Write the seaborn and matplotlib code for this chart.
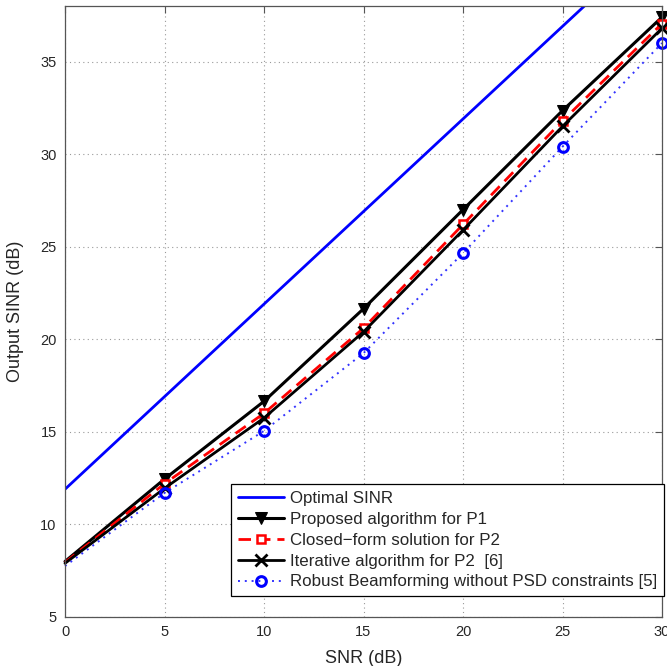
import numpy as np
import pandas as pd
import seaborn as sns
import matplotlib

matplotlib.use("agg")

import matplotlib.pyplot as plt

# values
snr = [0, 5, 10, 15, 20, 25, 30]
optimal = [11.9, 16.9, 21.9, 26.9, 31.9, 36.9, 41.9]
proposed = [8.0, 12.45, 16.65, 21.65, 27.0, 32.35, 37.4]
closed_form = [7.95, 12.2, 16.0, 20.6, 26.2, 31.8, 37.05]
iterative = [7.9, 11.95, 15.75, 20.4, 25.9, 31.5, 36.8]
robust = [7.75, 11.7, 15.05, 19.25, 24.65, 30.4, 36.0]

x_ticks = [0, 5, 10, 15, 20, 25, 30]
y_ticks = [5, 10, 15, 20, 25, 30, 35]

sns.set_style("white")
plt.rcParams["font.family"] = ["Liberation Sans", "DejaVu Sans"]

fig = plt.figure(figsize=(6.67, 6.66), dpi=100)
ax = fig.add_axes([65 / 667, 1 - 617 / 666, 597 / 667, 611 / 666])

marks = list(range(1, 7))  # no markers drawn at SNR = 0

# Optimal SINR
sns.lineplot(x=snr, y=optimal, ax=ax, color="#0000ff", linewidth=2,
             label="Optimal SINR")

# Proposed algorithm for P1
sns.lineplot(x=snr, y=proposed, ax=ax, color="black", linewidth=2.2,
             marker="v", markersize=8, markevery=marks,
             markerfacecolor="black", markeredgecolor="black",
             label="Proposed algorithm for P1", clip_on=False)

# Closed-form solution for P2
sns.lineplot(x=snr, y=closed_form, ax=ax, color="#ff0000", linewidth=2,
             linestyle=(0, (4.5, 2.5)), marker="s", markersize=6,
             markevery=marks, markerfacecolor="white",
             markeredgecolor="#ff0000", markeredgewidth=1.8,
             label="Closed\u2212form solution for P2", clip_on=False)

# Iterative algorithm for P2 [6]
sns.lineplot(x=snr, y=iterative, ax=ax, color="black", linewidth=2,
             marker="x", markersize=8, markeredgewidth=2,
             markevery=marks, markeredgecolor="black",
             label="Iterative algorithm for P2  [6]", clip_on=False)

# Robust beamforming without PSD constraints [5]
sns.lineplot(x=snr, y=robust, ax=ax, color="#3333ff", linewidth=1.4,
             linestyle=(0, (1, 2.5)), marker="o", markersize=7,
             markevery=marks, markerfacecolor="none",
             markeredgecolor="#0000ff", markeredgewidth=2.2,
             label="Robust Beamforming without PSD constraints [5]",
             clip_on=False)

ax.set_xlim(0, 30)
ax.set_ylim(5, 38)
ax.set_xticks(x_ticks)
ax.set_yticks(y_ticks)
ax.grid(True, linestyle=(0, (1, 3)), color="#999999", linewidth=0.8)
ax.tick_params(direction="in", top=True, right=True, length=5, width=0.8,
               color="#555555", labelsize=10.5, pad=6)
for s in ax.spines.values():
    s.set_color("#555555")
    s.set_linewidth(0.9)

ax.set_xlabel("SNR (dB)", fontsize=13, labelpad=8)
ax.set_ylabel("Output SINR (dB)", fontsize=13, labelpad=12)

leg = ax.legend(loc="lower right", bbox_to_anchor=(1.003, 0.034),
                borderaxespad=0, fontsize=12.2, frameon=True, fancybox=False,
                edgecolor="black", framealpha=1, borderpad=0.4,
                handlelength=2.7, handletextpad=0.35, labelspacing=0.35)
leg.get_frame().set_linewidth(0.9)

fig.savefig("out.png", dpi=100)
